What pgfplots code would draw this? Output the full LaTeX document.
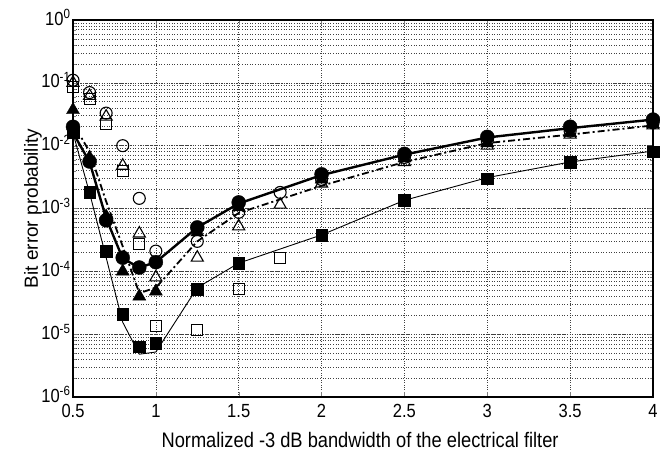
\documentclass[border=0pt]{standalone}
\usepackage{fontspec}
\setmainfont{Liberation Sans}
\usepackage{graphicx}
\usepackage{pgfplots}
\pgfplotsset{compat=1.18}
% slightly condensed label text
\newcommand\cx[1]{\scalebox{0.87}[1]{#1}}
\newcommand\ep[1]{\cx{10\textsuperscript{#1}}}
\begin{document}
\begin{tikzpicture}
\begin{axis}[
  scale only axis,
  width=580pt, height=377pt,
  ymode=log,
  xmin=0.5, xmax=4, ymin=1e-6, ymax=1,
  xtick={0.5,1,1.5,2,2.5,3,3.5,4},
  xticklabels={\cx{0.5},\cx{1},\cx{1.5},\cx{2},\cx{2.5},\cx{3},\cx{3.5},\cx{4}},
  ytick={1e-6,1e-5,1e-4,1e-3,1e-2,1e-1,1},
  yticklabels={\ep{-6},\ep{-5},\ep{-4},\ep{-3},\ep{-2},\ep{-1},\ep{0}},
  /pgf/number format/assume math mode=true,
  tick label style={font=\fontsize{19}{21}\selectfont},
  xticklabel style={anchor=north, yshift=-4pt},
  yticklabel style={anchor=east, xshift=1pt, yshift=2.5pt},
  xlabel={\cx{\fontsize{21}{23}\selectfont Normalized -3 dB bandwidth of the electrical filter}},
  ylabel={\fontsize{19}{21}\selectfont Bit error probability},
  xlabel style={at={(axis description cs:0.495,0)}, anchor=center, yshift=-43pt},
  ylabel style={at={(axis description cs:-0.069,0.5)}, anchor=center, rotate=0},
  tick align=inside,
  major tick length=5pt, minor tick length=3pt,
  xmajorgrids, ymajorgrids, yminorgrids,
  grid style={dotted, black!75, line width=0.6pt},
  minor grid style={dotted, black!75, line width=0.6pt},
  axis line style={line width=1.2pt},
  clip=false,
]
% theory curves
\addplot[black, line width=2.4pt] coordinates {
 (0.5,1.6e-2) (0.6,5.5e-3) (0.7,7e-4) (0.8,1.6e-4) (0.9,1.15e-4) (1.0,1.4e-4)
 (1.25,5e-4) (1.5,1.2e-3) (2,3.4e-3) (2.5,7.2e-3) (3,1.35e-2) (3.5,1.9e-2) (4,2.6e-2)};
\addplot[black, line width=1.8pt, dash pattern=on 7pt off 3pt on 2pt off 3pt] coordinates {
 (0.5,1.6e-2) (0.55,1.35e-2) (0.6,8e-3) (0.7,1.3e-3) (0.8,2.5e-4) (0.9,4.5e-5) (1.0,5.5e-5)
 (1.25,3e-4) (1.5,8.5e-4) (2,2.3e-3) (2.5,5.5e-3) (3,1.1e-2) (3.5,1.5e-2) (4,2.1e-2)};
\addplot[black, line width=0.9pt] coordinates {
 (0.5,1.6e-2) (0.61,1.4e-3) (0.8,1.55e-5) (0.9,4.8e-6) (1.0,5.2e-6)
 (1.25,5.5e-5) (1.5,1.35e-4) (2,3.8e-4) (2.5,1.35e-3) (3,3.1e-3) (3.5,5.5e-3) (4,8.2e-3)};
% open markers
\addplot[only marks, mark=o, mark size=6pt, black, line width=1.1pt, mark options={fill=white}] coordinates {
 (0.5,1.1e-1) (0.6,7e-2) (0.7,3.3e-2) (0.8,1e-2) (0.9,1.45e-3) (1.0,2.1e-4)
 (1.25,3e-4) (1.5,8.7e-4) (1.75,1.8e-3) (2,2.9e-3) (2.5,6.5e-3) (3,1.2e-2) (3.5,1.7e-2) (4,2.3e-2)};
\addplot[only marks, mark=triangle, mark size=7pt, black, line width=1.1pt] coordinates {
 (0.5,1e-1) (0.6,6.2e-2) (0.7,2.9e-2) (0.8,4.8e-3) (0.9,4e-4) (1.0,8e-5)
 (1.25,1.65e-4) (1.5,5.2e-4) (1.75,1.15e-3) (2,2.5e-3) (2.5,5.5e-3) (3,1e-2) (3.5,1.5e-2) (4,2.1e-2)};
\addplot[only marks, mark=square, mark size=5.5pt, black, line width=1.1pt] coordinates {
 (0.5,8.5e-2) (0.6,5.5e-2) (0.7,2.2e-2) (0.8,4e-3) (0.9,2.7e-4) (1.0,1.35e-5)
 (1.25,1.15e-5) (1.5,5.2e-5) (1.75,1.65e-4)};
% filled markers
\addplot[only marks, mark=*, mark size=7pt, black] coordinates {
 (0.5,2e-2) (0.6,5.6e-3) (0.7,6.5e-4) (0.8,1.65e-4) (0.9,1.15e-4) (1.0,1.4e-4)
 (1.25,5e-4) (1.5,1.25e-3) (2,3.5e-3) (2.5,7.4e-3) (3,1.38e-2) (3.5,2e-2) (4,2.6e-2)};
\addplot[only marks, mark=triangle*, mark size=7.5pt, black] coordinates {
 (0.5,3.7e-2) (0.6,6.5e-3) (0.7,7.5e-4) (0.8,1e-4) (0.9,4e-5) (1.0,4.8e-5)
 (1.25,4.2e-4) (1.5,1.05e-3) (2,2.9e-3) (2.5,6.3e-3) (3,1.1e-2) (3.5,1.6e-2) (4,2.2e-2)};
\addplot[only marks, mark=square*, mark size=5.8pt, black] coordinates {
 (0.5,1.6e-2) (0.6,1.8e-3) (0.7,2.1e-4) (0.8,2.1e-5) (0.9,6.3e-6) (1.0,7.2e-6)
 (1.25,5.2e-5) (1.5,1.35e-4) (2,3.8e-4) (2.5,1.35e-3) (3,3e-3) (3.5,5.4e-3) (4,8e-3)};
\end{axis}
\pgfresetboundingbox
\useasboundingbox ([shift={(-73pt,-61pt)}]current axis.south west) rectangle ([shift={(7pt,20pt)}]current axis.north east);
\end{tikzpicture}
\end{document}
